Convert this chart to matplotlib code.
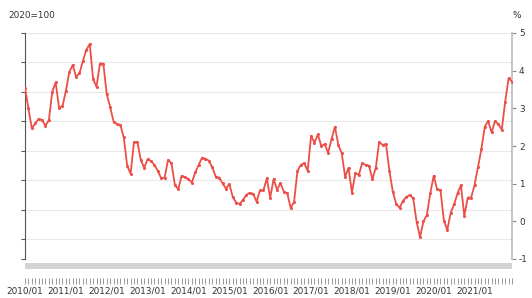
import matplotlib.pyplot as plt
import matplotlib.patches as patches
import numpy as np

# monthly values 2010/01 - 2021/12 (right axis, %)
values = [3.55, 3.00, 2.47, 2.60, 2.72, 2.69, 2.54, 2.68, 3.44, 3.69, 3.02, 3.05,
          3.46, 3.96, 4.15, 3.84, 3.93, 4.26, 4.55, 4.71, 3.78, 3.57, 4.19, 4.19,
          3.37, 3.04, 2.65, 2.58, 2.56, 2.23, 1.48, 1.26, 2.10, 2.11, 1.63, 1.42,
          1.65, 1.60, 1.50, 1.34, 1.14, 1.16, 1.63, 1.54, 0.97, 0.85, 1.21, 1.17,
          1.12, 1.03, 1.30, 1.50, 1.69, 1.66, 1.61, 1.43, 1.19, 1.16, 1.01, 0.87,
          0.99, 0.65, 0.50, 0.46, 0.57, 0.70, 0.76, 0.73, 0.52, 0.82, 0.82, 1.14,
          0.63, 1.12, 0.84, 1.01, 0.79, 0.75, 0.36, 0.51, 1.34, 1.50, 1.54, 1.34,
          2.27, 2.09, 2.31, 2.00, 2.05, 1.82, 2.18, 2.51, 2.03, 1.81, 1.18, 1.42,
          0.76, 1.28, 1.23, 1.54, 1.50, 1.48, 1.12, 1.42, 2.10, 2.03, 2.05, 1.34,
          0.79, 0.46, 0.36, 0.55, 0.65, 0.70, 0.61, -0.02, -0.42, 0.00, 0.17, 0.74,
          1.21, 0.85, 0.83, 0.02, -0.23, 0.23, 0.45, 0.74, 0.96, 0.14, 0.63, 0.63,
          0.96, 1.43, 1.91, 2.51, 2.66, 2.36, 2.66, 2.58, 2.43, 3.18, 3.80, 3.71]
years = list(range(2010, 2022))
year_labels = ["%d/01" % y for y in years]
right_ticks = [5, 4, 3, 2, 1, 0, -1]

line_color = "#ec4f47"
text_color = "#333333"
fs = 6.4

fig = plt.figure(figsize=(5.32, 2.98), dpi=100)
ax = fig.add_axes([25 / 532, 39 / 298, 487 / 532, 226 / 298])

# left axis: grid only, no labels
top = 226 / 29.43
left_ticks = [0] + [top - k for k in range(7, -1, -1)]
ax.set_ylim(0, top)
ax.set_yticks(left_ticks)
ax.set_yticklabels([])
ax.yaxis.grid(True, color="#e8e8e8", linewidth=0.8)
ax.tick_params(axis="y", length=3, color="#555555", width=0.8)
ax.spines["left"].set_color("#555555")
ax.spines["left"].set_linewidth(0.8)
for s in ["top", "right"]:
    ax.spines[s].set_visible(False)

# x axis below the slider bar
n = len(values)
x = np.arange(n)
ax.set_xlim(0, n - 1)
ax.set_xticks([12 * i for i in range(len(years))])
ax.set_xticklabels(year_labels)
ax.set_xticks(x, minor=True)
ax.spines["bottom"].set_position(("outward", 14))
ax.spines["bottom"].set_visible(False)
ax.tick_params(axis="x", which="both", length=4, color="#888888", width=0.6, pad=2,
               labelsize=fs, labelcolor=text_color)

bar = patches.Rectangle((0, -10 / 226), 1, 6 / 226, transform=ax.transAxes,
                        facecolor="#d3d3d3", edgecolor="none", clip_on=False)
ax.add_patch(bar)

ax2 = ax.twinx()
ax2.plot(x, values, color=line_color, linewidth=1.3, marker="o", markersize=2.2,
         markeredgewidth=0, zorder=3)
ax2.set_ylim(-1, 5)
ax2.set_yticks(right_ticks)
ax2.set_yticklabels([str(v) for v in right_ticks])
ax2.tick_params(axis="y", length=3, color="#888888", width=0.8, pad=2,
                labelsize=fs, labelcolor=text_color)
for s in ["top", "left", "bottom"]:
    ax2.spines[s].set_visible(False)
ax2.spines["right"].set_color("#bbbbbb")
ax2.spines["right"].set_linewidth(1.2)

fig.text(8 / 532, 1 - 15 / 298, "2020=100", fontsize=fs, color=text_color,
         va="center", ha="left")
fig.text(517 / 532, 1 - 15 / 298, "%", fontsize=fs, color=text_color,
         va="center", ha="center")

fig.savefig("out.png", dpi=100)
